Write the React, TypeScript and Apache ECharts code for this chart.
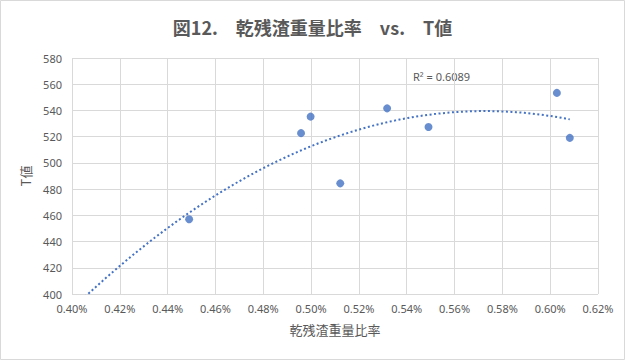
import React, { useEffect, useRef } from "react";
import * as echarts from "echarts";

const ratioPct = [0.449, 0.4958, 0.4998, 0.5122, 0.5318, 0.5491, 0.6028, 0.6082];
const tValues = [457, 522.7, 535.3, 484.4, 541.6, 527.4, 553.4, 519.1];
const titleText = "図12.　乾残渣重量比率　vs.　T値";
const xName = "乾残渣重量比率";
const yName = "T値";
const r2Label = "R² = 0.6089";
const trendStart = 0.4;

function quadFit(xs: number[], ys: number[]) {
  const s = [0, 0, 0, 0, 0];
  const t = [0, 0, 0];
  for (let i = 0; i < xs.length; i++) {
    let p = 1;
    for (let k = 0; k < 5; k++) {
      s[k] += p;
      if (k < 3) t[k] += p * ys[i];
      p *= xs[i];
    }
  }
  const A = [
    [s[0], s[1], s[2], t[0]],
    [s[1], s[2], s[3], t[1]],
    [s[2], s[3], s[4], t[2]],
  ];
  for (let c = 0; c < 3; c++) {
    let piv = c;
    for (let r = c + 1; r < 3; r++) if (Math.abs(A[r][c]) > Math.abs(A[piv][c])) piv = r;
    [A[c], A[piv]] = [A[piv], A[c]];
    for (let r = 0; r < 3; r++) {
      if (r === c) continue;
      const f = A[r][c] / A[c][c];
      for (let k = c; k < 4; k++) A[r][k] -= f * A[c][k];
    }
  }
  return [A[0][3] / A[0][0], A[1][3] / A[1][1], A[2][3] / A[2][2]];
}

export default function App() {
  const ref = useRef<HTMLDivElement>(null);
  useEffect(() => {
    if (!ref.current) return;
    const chart = echarts.init(ref.current, undefined, { renderer: "svg" });
    const [a0, a1, a2] = quadFit(ratioPct, tValues);
    const xMax = Math.max(...ratioPct);
    const trend: number[][] = [];
    const n = 120;
    for (let i = 0; i <= n; i++) {
      const x = trendStart + ((xMax - trendStart) * i) / n;
      trend.push([x, a0 + a1 * x + a2 * x * x]);
    }
    const labelStyle = { color: "#595959", fontSize: 11, fontFamily: "'Noto Sans', 'Noto Sans CJK JP', sans-serif" };
    chart.setOption({
      animation: false,
      backgroundColor: "#ffffff",
      title: {
        text: titleText,
        left: "center",
        top: 13,
        textStyle: { color: "#595959", fontSize: 18, fontWeight: "bold", fontFamily: "'Noto Sans CJK JP', sans-serif" },
      },
      grid: { left: 72, right: 27, top: 58, bottom: 66 },
      xAxis: {
        type: "value",
        min: 0.4,
        max: 0.62,
        interval: 0.02,
        name: xName,
        nameLocation: "middle",
        nameGap: 29,
        nameTextStyle: { color: "#595959", fontSize: 13, fontFamily: "'Noto Sans CJK JP', sans-serif" },
        axisLine: { show: false },
        axisTick: { show: false },
        axisLabel: { ...labelStyle, margin: 9, formatter: (v: number) => v.toFixed(2) + "%" },
        splitLine: { show: true, lineStyle: { color: "#d9d9d9", width: 1 } },
      },
      yAxis: {
        type: "value",
        min: 400,
        max: 580,
        interval: 20,
        name: yName,
        nameLocation: "middle",
        nameRotate: 90,
        nameGap: 40,
        nameTextStyle: { color: "#595959", fontSize: 13, fontFamily: "'Noto Sans CJK JP', sans-serif" },
        axisLine: { show: false },
        axisTick: { show: false },
        axisLabel: { ...labelStyle, margin: 10 },
        splitLine: { show: true, lineStyle: { color: "#d9d9d9", width: 1 } },
      },
      series: [
        {
          type: "line",
          data: trend,
          showSymbol: false,
          smooth: false,
          clip: true,
          lineStyle: { color: "#4472C4", width: 2, type: [2, 2.5] },
          z: 2,
        },
        {
          type: "scatter",
          data: ratioPct.map((x, i) => [x, tValues[i]]),
          symbolSize: 8,
          itemStyle: { color: "#4472C4" },
          z: 3,
        },
      ],
      graphic: [
        {
          type: "rect",
          shape: { x: 0.5, y: 0.5, width: 624, height: 359 },
          style: { fill: "none", stroke: "#d9d9d9", lineWidth: 1 },
          silent: true,
        },
        {
          type: "text",
          left: 413,
          top: 71,
          style: { text: r2Label, fill: "#595959", fontSize: 11, fontFamily: "'Noto Sans', sans-serif" },
        },
      ],
    });
    return () => chart.dispose();
  }, []);
  return <div ref={ref} style={{ position: "fixed", left: 0, top: 0, width: 625, height: 360 }} />;
}
